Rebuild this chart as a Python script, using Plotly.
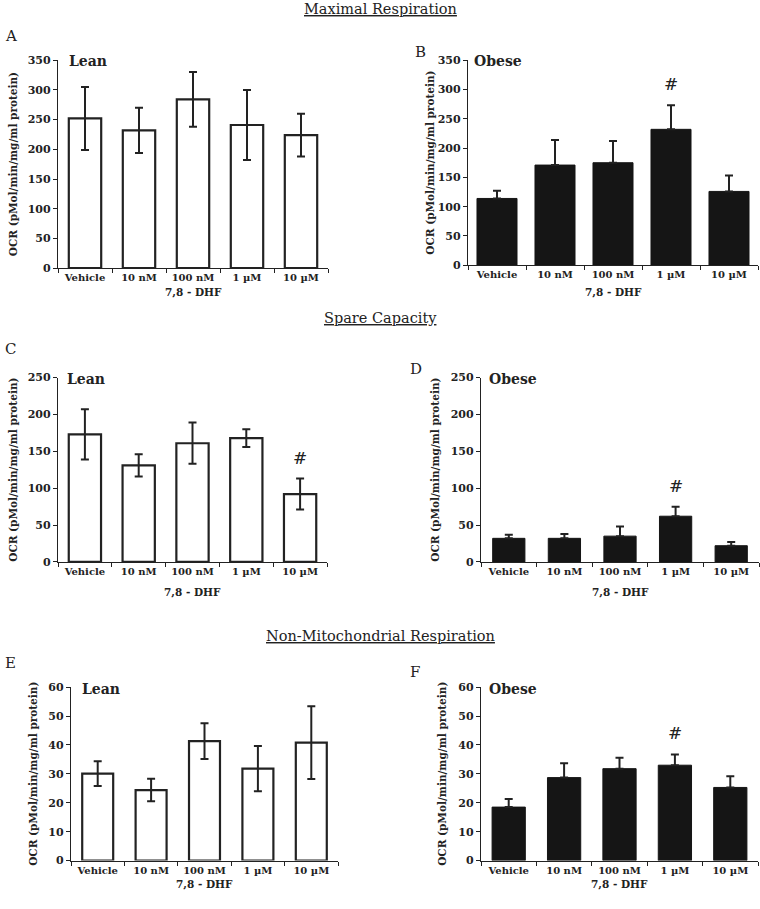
import plotly.graph_objects as go

W, H = 760, 909

categories = ["Vehicle", "10 nM", "100 nM", "1 µM", "10 µM"]

# Maximal respiration
max_lean = [252, 232, 284, 241, 224]
max_lean_err = [53, 38, 46, 59, 36]
max_obese = [114, 171, 175, 232, 126]
max_obese_err = [13, 43, 37, 41, 27]

# Spare capacity
spare_lean = [173, 131, 161, 168, 92]
spare_lean_err = [34, 15, 28, 12, 21]
spare_obese = [32, 32, 35, 62, 22]
spare_obese_err = [5, 6, 13, 13, 5]

# Non-mitochondrial respiration
nonmito_lean = [30.1, 24.4, 41.3, 31.8, 40.8]
nonmito_lean_err = [4.3, 3.9, 6.2, 7.8, 12.6]
nonmito_obese = [18.5, 28.7, 31.8, 33.0, 25.3]
nonmito_obese_err = [2.8, 5.0, 3.8, 3.7, 3.9]

SERIF = "DejaVu Serif"
INK = "#222222"


def dx(px):
    return px / W


def dy(py):
    return 1 - py / H


# panel geometry in window pixels: (x0, x1, ytop, ybottom)
panels = [
    dict(key="", box=(58, 328, 55, 266), vals=max_lean, err=max_lean_err, obese=False,
         ymax=350, dtick=50, letter="A", lpos=(3, 30), group="Lean", gx=67, gap=0.40,
         sig=None, ytitle_x=13, dhf_y=290),
    dict(key="2", box=(468, 758, 55, 263), vals=max_obese, err=max_obese_err, obese=True,
         ymax=350, dtick=50, letter="B", lpos=(413, 47), group="Obese", gx=472, gap=0.31,
         sig=3, ytitle_x=430, dhf_y=290),
    dict(key="3", box=(58, 327, 377, 564), vals=spare_lean, err=spare_lean_err, obese=False,
         ymax=250, dtick=50, letter="C", lpos=(3, 348), group="Lean", gx=65, gap=0.40,
         sig=4, ytitle_x=13, dhf_y=594),
    dict(key="4", box=(481, 759, 377, 564), vals=spare_obese, err=spare_obese_err, obese=True,
         ymax=250, dtick=50, letter="D", lpos=(408, 368), group="Obese", gx=487, gap=0.42,
         sig=3, ytitle_x=435, dhf_y=594),
    dict(key="5", box=(71, 338, 691, 867), vals=nonmito_lean, err=nonmito_lean_err, obese=False,
         ymax=60, dtick=10, letter="E", lpos=(3, 667), group="Lean", gx=80, gap=0.42,
         sig=None, ytitle_x=33, dhf_y=891),
    dict(key="6", box=(481, 758, 691, 867), vals=nonmito_obese, err=nonmito_obese_err, obese=True,
         ymax=60, dtick=10, letter="F", lpos=(408, 676), group="Obese", gx=487, gap=0.40,
         sig=3, ytitle_x=442, dhf_y=891),
]

fig = go.Figure()
annotations = []
layout_axes = {}

for p in panels:
    k = p["key"]
    x0, x1, yt, yb = p["box"]
    if p["obese"]:
        err = dict(type="data", symmetric=False, array=p["err"], arrayminus=[0] * 5,
                   color=INK, thickness=2, width=4)
        marker = dict(color="#151515", line=dict(color="#151515", width=1))
    else:
        err = dict(type="data", array=p["err"], color=INK, thickness=2, width=4)
        marker = dict(color="white", line=dict(color=INK, width=2.2))
    fig.add_trace(go.Bar(x=categories, y=p["vals"], error_y=err, marker=marker,
                         width=1 - p["gap"], xaxis="x" + k, yaxis="y" + k,
                         showlegend=False, hoverinfo="skip"))
    layout_axes["xaxis" + k] = dict(
        domain=[dx(x0), dx(x1)], anchor="y" + k, type="category",
        range=[-0.5, 4.5], showline=True, linecolor=INK, linewidth=1.3,
        ticks="outside", tickson="boundaries", ticklen=4, tickcolor=INK, tickwidth=1.3,
        tickangle=0,
        tickfont=dict(family=SERIF, size=10, color=INK, weight="bold"),
        showgrid=False, zeroline=False, fixedrange=True,
    )
    layout_axes["yaxis" + k] = dict(
        domain=[dy(yb), dy(yt)], anchor="x" + k, range=[0, p["ymax"]],
        dtick=p["dtick"], tick0=0, showline=True, linecolor=INK, linewidth=1.3,
        ticks="outside", ticklen=4, tickcolor=INK, tickwidth=1.3,
        tickfont=dict(family=SERIF, size=11, color=INK, weight="bold"),
        showgrid=False, zeroline=False, fixedrange=True,
    )
    # panel letter
    annotations.append(dict(text=p["letter"], x=dx(p["lpos"][0]), y=dy(p["lpos"][1]),
                            xref="paper", yref="paper", xanchor="left", yanchor="middle",
                            showarrow=False, font=dict(family=SERIF, size=15, color=INK)))
    # group label
    annotations.append(dict(text="<b>" + p["group"] + "</b>", x=dx(p["gx"]), y=1.045,
                            xref="paper", yref="y" + k + " domain",
                            xanchor="left", yanchor="top", showarrow=False,
                            font=dict(family=SERIF, size=14, color=INK)))
    # y title
    annotations.append(dict(text="<b>OCR (pMol/min/mg/ml protein)</b>",
                            x=dx(p["ytitle_x"]), y=dy((yt + yb) / 2),
                            xref="paper", yref="paper", textangle=-90,
                            xanchor="center", yanchor="middle", showarrow=False,
                            font=dict(family=SERIF, size=10.5, color=INK)))
    # x title
    annotations.append(dict(text="<b>7,8 - DHF</b>", x=dx((x0 + x1) / 2), y=dy(p["dhf_y"]),
                            xref="paper", yref="paper", xanchor="center", yanchor="middle",
                            showarrow=False, font=dict(family=SERIF, size=10.5, color=INK)))
    # significance mark
    if p["sig"] is not None:
        i = p["sig"]
        annotations.append(dict(text="#", x=categories[i], y=p["vals"][i] + p["err"][i],
                                xref="x" + k, yref="y" + k, xanchor="center",
                                yanchor="bottom", yshift=9, showarrow=False,
                                font=dict(family=SERIF, size=17, color=INK)))

section_titles = [("Maximal Respiration", 3), ("Spare Capacity", 317),
                  ("Non-Mitochondrial Respiration", 639)]
for t, py in section_titles:
    annotations.append(dict(text="<u>" + t + "</u>", x=dx(381), y=dy(py), xref="paper",
                            yref="paper", xanchor="center", yanchor="middle",
                            showarrow=False, font=dict(family=SERIF, size=14.5, color=INK)))

fig.update_layout(
    width=W, height=H, margin=dict(l=0, r=0, t=0, b=0),
    paper_bgcolor="white", plot_bgcolor="white",
    annotations=annotations, **layout_axes,
)

# remove the default page margin so the figure fills the window exactly
fig.write_html("out.html", config={"displayModeBar": False},
               post_script="document.body.style.margin='0px';")
